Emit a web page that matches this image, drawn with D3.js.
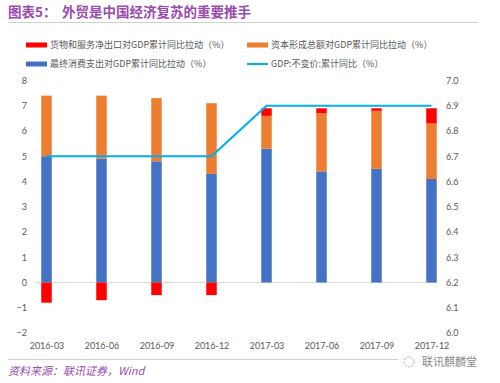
<!DOCTYPE html>
<html><head><meta charset="utf-8">
<script src="https://cdn.jsdelivr.net/npm/d3@7"></script>
<style>body{margin:0;background:#fff;}svg{display:block;font-family:"Noto Sans CJK SC","Noto Sans",sans-serif;}</style>
</head><body><svg id="c" width="500" height="383"></svg>
<script>
const categories = ["2016-03","2016-06","2016-09","2016-12","2017-03","2017-06","2017-09","2017-12"];
const netExports = [-0.8,-0.7,-0.5,-0.5,0.3,0.2,0.1,0.6];
const capital = [2.4,2.5,2.5,2.8,1.3,2.3,2.3,2.2];
const consumption = [5.0,4.9,4.8,4.3,5.3,4.4,4.5,4.1];
const gdp = [6.7,6.7,6.7,6.7,6.9,6.9,6.9,6.9];
const leftTicks = [-2,-1,0,1,2,3,4,5,6,7,8];
const rightTicks = [6.0,6.1,6.2,6.3,6.4,6.5,6.6,6.7,6.8,6.9,7.0];

const svg = d3.select("#c");
const purple = "#9a4ab0";
const textGray = "#595959";

// title
svg.append("text").attr("x",8).attr("y",17).attr("fill",purple).attr("font-size",13.5).attr("font-weight","bold").text("图表5：");
svg.append("text").attr("x",62).attr("y",17).attr("fill",purple).attr("font-size",13.5).attr("font-weight","bold").text("外贸是中国经济复苏的重要推手");
svg.append("line").attr("x1",8).attr("x2",478).attr("y1",22.5).attr("y2",22.5).attr("stroke","#d0d0d0").attr("stroke-width",1);

const x = d3.scalePoint().domain(categories).range([46.5,431.5]);
const yL = d3.scaleLinear().domain([-2,8]).range([333,80.5]);
const yR = d3.scaleLinear().domain([6.0,7.0]).range([333,80.5]);
const bw = 10.5;

// baseline
svg.append("line").attr("x1",35).attr("x2",438).attr("y1",yL(0)).attr("y2",yL(0)).attr("stroke","#d9d9d9").attr("stroke-width",1);

// axes
const axL = d3.axisLeft(yL).tickValues(leftTicks).tickSize(0).tickPadding(0).tickFormat(d3.format("d"));
const gL = svg.append("g").attr("transform","translate(27,0)").call(axL);
gL.select(".domain").remove();
gL.selectAll("text").attr("fill",textGray).attr("font-size",9).attr("font-family","Lato, 'Noto Sans', sans-serif");

const axR = d3.axisRight(yR).tickValues(rightTicks).tickSize(0).tickPadding(0).tickFormat(d3.format(".1f"));
const gR = svg.append("g").attr("transform","translate(446,0)").call(axR);
gR.select(".domain").remove();
gR.selectAll("text").attr("fill",textGray).attr("font-size",9).attr("font-family","Lato, 'Noto Sans', sans-serif");

const axB = d3.axisBottom(x).tickSize(0).tickPadding(0);
const gB = svg.append("g").attr("transform","translate(0,343)").call(axB);
gB.select(".domain").remove();
gB.selectAll("text").attr("fill",textGray).attr("font-size",9).attr("font-family","Lato, 'Noto Sans', sans-serif");

// bars
const data = categories.map((c,i)=>({c, cons:consumption[i], cap:capital[i], net:netExports[i]}));
const g = svg.append("g");
// consumption
g.selectAll(".cons").data(data).join("rect")
  .attr("x",d=>x(d.c)-bw/2).attr("width",bw)
  .attr("y",d=>yL(d.cons)).attr("height",d=>yL(0)-yL(d.cons)).attr("fill","#4472c4");
// capital
g.selectAll(".cap").data(data).join("rect")
  .attr("x",d=>x(d.c)-bw/2).attr("width",bw)
  .attr("y",d=>yL(d.cons+d.cap)).attr("height",d=>yL(d.cons)-yL(d.cons+d.cap)).attr("fill","#ed7d31");
// net exports
g.selectAll(".net").data(data).join("rect")
  .attr("x",d=>x(d.c)-bw/2).attr("width",bw)
  .attr("y",d=>d.net>=0 ? yL(d.cons+d.cap+d.net) : yL(0))
  .attr("height",d=>d.net>=0 ? yL(d.cons+d.cap)-yL(d.cons+d.cap+d.net) : yL(d.net)-yL(0))
  .attr("fill","#ff0000");

// gdp line
const line = d3.line().x((d,i)=>x(categories[i])).y(d=>yR(d));
svg.append("path").datum(gdp).attr("d",line).attr("fill","none").attr("stroke","#00b0f0").attr("stroke-width",2.2);

// legend
const leg = [
  {t:"货物和服务净出口对GDP累计同比拉动（%）", c:"#ff0000", x:26, y:45, type:"rect"},
  {t:"资本形成总额对GDP累计同比拉动（%）", c:"#ed7d31", x:247, y:45, type:"rect"},
  {t:"最终消费支出对GDP累计同比拉动（%）", c:"#4472c4", x:26, y:64, type:"rect"},
  {t:"GDP:不变价:累计同比（%）", c:"#00b0f0", x:247, y:64, type:"line"}
];
leg.forEach(l=>{
  if(l.type==="rect") svg.append("rect").attr("x",l.x).attr("y",l.y-2.5).attr("width",21).attr("height",5).attr("fill",l.c);
  else svg.append("line").attr("x1",l.x).attr("x2",l.x+21).attr("y1",l.y).attr("y2",l.y).attr("stroke",l.c).attr("stroke-width",2);
  svg.append("text").attr("x",l.x+24).attr("y",l.y+3.2).attr("font-size",9).attr("fill",textGray).text(l.t);
});

// footer
svg.append("line").attr("x1",8).attr("x2",398).attr("y1",359.5).attr("y2",359.5).attr("stroke","#d0d0d0");
svg.append("text").attr("x",8).attr("y",375).attr("fill",purple).attr("font-size",11).attr("font-style","italic").text("资料来源：联讯证券，Wind");
svg.append("text").attr("x",422).attr("y",366).attr("fill","#8a8a8a").attr("font-size",11).text("联讯麒麟堂");
svg.append("circle").attr("cx",409).attr("cy",362).attr("r",5).attr("fill","none").attr("stroke","#aaa").attr("stroke-dasharray","2,1.5");
</script></body></html>
